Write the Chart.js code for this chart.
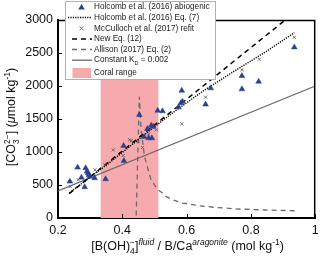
<!DOCTYPE html>
<html>
<head>
<meta charset="utf-8">
<script src="https://cdn.jsdelivr.net/npm/chart.js@4.4.1/dist/chart.umd.min.js"></script>
<style>
  html, body { margin: 0; padding: 0; background: #fff; }
  #wrap { width: 320px; height: 263px; position: relative; }
</style>
</head>
<body>
<div id="wrap"><canvas id="c"></canvas></div>
<script>
// ---------- data ----------
const holcombAbioX = [0.237,0.261,0.273,0.283,0.286,0.290,0.294,0.296,0.299,0.314,0.348,0.404,0.405,
                      0.453,0.468,0.478,0.482,0.490,0.492,0.496,0.510,0.525,0.575,0.582,0.587,0.585,0.659,0.675,0.772,0.772,0.824,0.935];
const holcombAbioY = [554,766,614,469,757,705,681,655,629,605,590,1094,867,
                      1563,1230,1351,1210,1401,1210,1386,1628,1619,1679,1740,1764,1931,1721,1967,2153,1952,2067,2587];

const holcombEq7X = [0.235,0.35,0.45,0.55,0.65,0.75,0.85,0.935];
const holcombEq7Y = [380,800,1190,1570,1920,2230,2530,2808];

const mccullochX = [0.238,0.263,0.315,0.320,0.346,0.372,0.403,0.423,0.428,0.449,0.463,0.482,0.506,0.585,0.659,0.772,0.826,0.935];
const mccullochY = [478,580,731,705,806,1033,947,1185,1170,1159,1068,1271,1336,1427,1831,2244,2406,2739];

const newEq12X = [0.235,0.935];
const newEq12Y = [370,3110];

const allisonX = [0.441,0.453,0.4585,0.469,0.489,0.510,0.525,0.536,0.556,0.587,0.639,0.690,0.762,0.845,0.937];
const allisonY = [-370,1838,1335,932,582,431,378,327,277,227,186,160,136,121,110];

const constKdX = [0.2,1.0];
const constKdY = [410,2000];

const coralRange = [0.332,0.513];   // x extent of coral range band
const coralTop = 3000;

const seriesLabels = ['Holcomb et al. (2016) abiogenic','Holcomb et al. (2016) Eq. (7)','McCulloch et al. (2017) refit',
                      'New Eq. (12)','Allison (2017) Eq. (2)','Constant K','Coral range'];

const xMin = 0.2, xMax = 1.0, xStep = 0.2;
const yMin = 0, yMax = 3000, yStep = 500;

// ---------- helpers ----------
const pts = (xs, ys) => xs.map((x, i) => ({x: x, y: ys[i]}));
const FONT = '"Liberation Sans", Arial, Helvetica, sans-serif';

function partWidth(ctx, p, size) {
  if (p.k === 'n') { ctx.font = (p.it ? 'italic ' : '') + size + 'px ' + FONT; return ctx.measureText(p.t).width; }
  const s = size * 0.68;
  ctx.font = (p.it ? 'italic ' : '') + s + 'px ' + FONT;
  if (p.k === 'stack') { return Math.max(ctx.measureText(p.sup).width, ctx.measureText(p.sub).width); }
  return ctx.measureText(p.t).width;
}
function drawRich(ctx, parts, size) {
  let total = 0;
  parts.forEach(p => total += partWidth(ctx, p, size));
  let x = -total / 2;
  ctx.textBaseline = 'alphabetic';
  ctx.textAlign = 'left';
  parts.forEach(p => {
    const w = partWidth(ctx, p, size);
    const s = size * 0.68;
    if (p.k === 'n') { ctx.font = (p.it ? 'italic ' : '') + size + 'px ' + FONT; ctx.fillText(p.t, x, 0); }
    else if (p.k === 'sup') { ctx.font = (p.it ? 'italic ' : '') + s + 'px ' + FONT; ctx.fillText(p.t, x, -size * 0.42); }
    else if (p.k === 'sub') { ctx.font = s + 'px ' + FONT; ctx.fillText(p.t, x, size * 0.32); }
    else if (p.k === 'stack') {
      ctx.font = s + 'px ' + FONT;
      ctx.fillText(p.sup, x, -size * 0.42);
      ctx.fillText(p.sub, x, size * 0.32);
    }
    x += w;
  });
}

const xTitle = [
  {k:'n', t:'[B(OH)'}, {k:'stack', sup:'−', sub:'4'}, {k:'n', t:']'}, {k:'sup', t:'fluid', it:true},
  {k:'n', t:' / B/Ca'}, {k:'sup', t:'aragonite', it:true}, {k:'n', t:' (mol kg'}, {k:'sup', t:'-1'}, {k:'n', t:')'}
];
const yTitle = [
  {k:'n', t:'[CO'}, {k:'stack', sup:'2−', sub:'3'}, {k:'n', t:'] ('}, {k:'n', t:'μ', it:true},
  {k:'n', t:'mol kg'}, {k:'sup', t:'-1'}, {k:'n', t:')'}
];

const decoPlugin = {
  id: 'deco',
  afterDatasetsDraw(chart) {
    const ctx = chart.ctx, a = chart.chartArea;
    const xs = chart.scales.x, ys = chart.scales.y;
    ctx.save();
    ctx.strokeStyle = '#000';
    ctx.lineWidth = 1;
    xs.ticks.forEach(t => {
      const px = Math.round(xs.getPixelForValue(t.value)) + 0.5;
      ctx.beginPath(); ctx.moveTo(px, a.bottom); ctx.lineTo(px, a.bottom - 4); ctx.stroke();
    });
    ys.ticks.forEach(t => {
      const py = Math.round(ys.getPixelForValue(t.value)) + 0.5;
      ctx.beginPath(); ctx.moveTo(a.left, py); ctx.lineTo(a.left + 4, py); ctx.stroke();
    });
    ctx.lineWidth = 1.5;
    ctx.beginPath();
    ctx.moveTo(a.left, a.top + 0.5); ctx.lineTo(a.right - 0.5, a.top + 0.5); ctx.lineTo(a.right - 0.5, a.bottom);
    ctx.stroke();
    ctx.restore();
  },
  afterDraw(chart) {
    const ctx = chart.ctx, a = chart.chartArea;
    ctx.save();
    ctx.fillStyle = '#111';
    ctx.save();
    ctx.translate((a.left + a.right) / 2 + 1, 250);
    drawRich(ctx, xTitle, 12.5);
    ctx.restore();
    ctx.save();
    ctx.translate(15, (a.top + a.bottom) / 2 - 2);
    ctx.rotate(-Math.PI / 2);
    drawRich(ctx, yTitle, 12.5);
    ctx.restore();

    const lx = 65, ly = 1, lw = 151, lh = 79;
    ctx.fillStyle = '#fff';
    ctx.fillRect(lx, ly, lw, lh);
    ctx.strokeStyle = '#b0b0b0';
    ctx.lineWidth = 1;
    ctx.strokeRect(lx + 0.5, ly + 0.5, lw - 1, lh - 1);
    const ds = chart.data.datasets;
    const rowY = [7, 17.5, 28.3, 39, 49.5, 60.2, 73];
    ctx.textBaseline = 'middle';
    ctx.textAlign = 'left';
    const lf = '8.2px ' + FONT;
    for (let i = 0; i < 7; i++) {
      const d = ds[i], y = rowY[i];
      if (d.kind === 'tri') {
        ctx.fillStyle = d.backgroundColor;
        ctx.beginPath(); ctx.moveTo(81.5, y - 3); ctx.lineTo(84.8, y + 2.5); ctx.lineTo(78.2, y + 2.5); ctx.closePath(); ctx.fill();
      } else if (d.kind === 'cross') {
        ctx.strokeStyle = d.borderColor; ctx.lineWidth = 0.8;
        ctx.beginPath(); ctx.moveTo(79.5, y - 2); ctx.lineTo(83.5, y + 2); ctx.moveTo(83.5, y - 2); ctx.lineTo(79.5, y + 2); ctx.stroke();
      } else if (d.kind === 'line') {
        ctx.strokeStyle = d.borderColor; ctx.lineWidth = d.borderWidth;
        ctx.setLineDash(d.borderDash || []);
        ctx.beginPath();
        ctx.moveTo(d.legendX0, y); ctx.lineTo(92, y); ctx.stroke();
        ctx.setLineDash([]);
      } else if (d.kind === 'band') {
        ctx.fillStyle = d.backgroundColor;
        ctx.fillRect(72.5, y - 5, 18.5, 10);
      }
      ctx.fillStyle = '#222';
      ctx.font = lf;
      if (i === 5) {
        ctx.fillText('Constant K', 94, y);
        const w1 = ctx.measureText('Constant K').width;
        ctx.font = '5.5px ' + FONT;
        ctx.fillText('D', 94 + w1, y + 3);
        const w2 = ctx.measureText('D').width;
        ctx.font = lf;
        ctx.fillText(' = 0.002', 94 + w1 + w2, y);
      } else {
        ctx.fillText(d.label, 94, y);
      }
    }
    ctx.restore();
  }
};

const navy = '#2d3f8e';
const grayLine = '#6a6a6a';

const chart = new Chart(document.getElementById('c'), {
  type: 'scatter',
  data: {
    datasets: [
      { label: seriesLabels[0], kind: 'tri', data: pts(holcombAbioX, holcombAbioY), pointStyle: 'triangle',
        pointRadius: 3.3, backgroundColor: navy, borderColor: navy, borderWidth: 0.5, order: 0 },
      { label: seriesLabels[1], kind: 'line', legendX0: 68, data: pts(holcombEq7X, holcombEq7Y), showLine: true, pointRadius: 0,
        borderColor: '#000', borderWidth: 1.4, borderDash: [1.2, 1.2], order: 3 },
      { label: seriesLabels[2], kind: 'cross', data: pts(mccullochX, mccullochY), pointStyle: 'crossRot',
        pointRadius: 2.2, borderColor: '#555', borderWidth: 0.8, backgroundColor: '#555', order: 1 },
      { label: seriesLabels[3], kind: 'line', legendX0: 72, data: pts(newEq12X, newEq12Y), showLine: true, pointRadius: 0,
        borderColor: '#000', borderWidth: 1.5, borderDash: [5, 4], order: 2 },
      { label: seriesLabels[4], kind: 'line', legendX0: 72, data: pts(allisonX, allisonY), showLine: true, pointRadius: 0,
        borderColor: grayLine, borderWidth: 1.3, borderDash: [5, 4], order: 4 },
      { label: seriesLabels[5], kind: 'line', legendX0: 72, data: pts(constKdX, constKdY), showLine: true, pointRadius: 0,
        borderColor: grayLine, borderWidth: 1.3, order: 5 },
      { label: seriesLabels[6], kind: 'band', data: [{x: coralRange[0], y: coralTop}, {x: coralRange[1], y: coralTop}],
        showLine: true, pointRadius: 0, borderWidth: 0, borderColor: 'rgba(0,0,0,0)',
        backgroundColor: '#f7aaae', fill: 'origin', order: 10 }
    ]
  },
  options: {
    responsive: true,
    maintainAspectRatio: false,
    animation: false,
    devicePixelRatio: 1,
    layout: { padding: { top: 20, right: 3, left: 0, bottom: 0 } },
    plugins: { legend: { display: false }, tooltip: { enabled: false }, filler: { propagate: false } },
    scales: {
      x: {
        type: 'linear', min: xMin, max: xMax,
        ticks: { stepSize: xStep, maxRotation: 0, padding: 5, color: '#111',
                 font: { family: FONT, size: 12.5 }, callback: v => String(+v.toFixed(1)) },
        grid: { display: true, drawOnChartArea: false, drawTicks: false },
        border: { display: true, color: '#000', width: 2 },
        afterFit: s => { s.height = 45; s.paddingRight = 0; s.paddingLeft = 0; }
      },
      y: {
        type: 'linear', min: yMin, max: yMax,
        ticks: { stepSize: yStep, padding: 5, color: '#111', font: { family: FONT, size: 12.5 },
                 callback: v => String(v) },
        grid: { display: true, drawOnChartArea: false, drawTicks: false },
        border: { display: true, color: '#000', width: 2 },
        afterFit: s => { s.width = 58; s.paddingTop = 0; s.paddingBottom = 0; }
      }
    }
  },
  plugins: [decoPlugin]
});
</script>
</body>
</html>
